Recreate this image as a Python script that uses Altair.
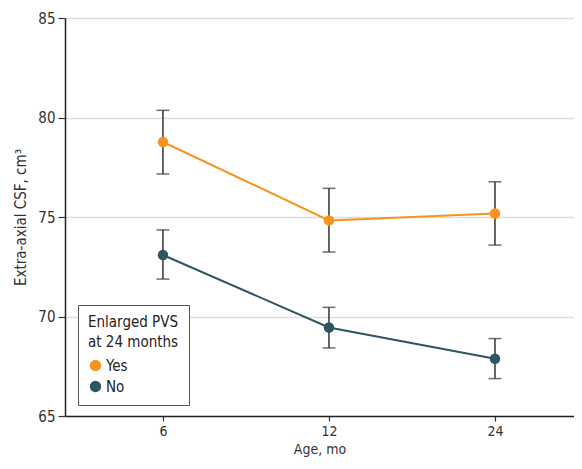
import altair as alt
import pandas as pd

ages = ["6", "12", "24"]
age_pos = [1, 2, 3]
groups = ["Yes", "No"]
yes_mean = [78.77, 74.83, 75.18]
yes_lo = [77.16, 73.24, 73.59]
yes_hi = [80.36, 76.44, 76.77]
no_mean = [73.09, 69.45, 67.88]
no_lo = [71.88, 68.42, 66.88]
no_hi = [74.35, 70.46, 68.89]

rows = []
for g, m, lo, hi in [("Yes", yes_mean, yes_lo, yes_hi), ("No", no_mean, no_lo, no_hi)]:
    for i in range(3):
        rows.append({"group": g, "age": ages[i], "pos": age_pos[i],
                     "mean": m[i], "lo": lo[i], "hi": hi[i]})
df = pd.DataFrame(rows)

FONT = "DejaVu Sans Condensed"
color = alt.Color("group:N",
                  scale=alt.Scale(domain=groups, range=["#F7941D", "#2D5562"]),
                  legend=alt.Legend(title=["Enlarged PVS", "at 24 months"],
                                    orient="none", legendX=13, legendY=287,
                                    symbolType="circle", symbolSize=130,
                                    symbolStrokeWidth=0, symbolOpacity=1,
                                    fillColor="white", strokeColor="#555",
                                    padding=10, titleFontSize=15, labelFontSize=15,
                                    titleFontWeight="normal", titleColor="#222",
                                    labelColor="#222", titleFont=FONT, labelFont=FONT,
                                    rowPadding=5, titlePadding=8, labelOffset=3,
                                    titleLineHeight=20))

xs = alt.X("pos:Q",
           scale=alt.Scale(domain=[0.41, 3.476], nice=False, zero=False),
           axis=alt.Axis(values=age_pos, labelExpr="['6','12','24'][datum.value-1]",
                         title="Age, mo", grid=False, tickSize=5, tickColor="#333",
                         domainColor="#222", labelPadding=3, titlePadding=4,
                         labelFontSize=14, titleFontSize=14))
ys = alt.Y("mean:Q",
           scale=alt.Scale(domain=[65, 85], nice=False, zero=False),
           axis=alt.Axis(values=[65, 70, 75, 80, 85], title="Extra-axial CSF, cm³",
                         grid=True, gridColor="#dddddd", gridWidth=1.5,
                         tickSize=7, tickColor="#333", domainColor="#222",
                         labelPadding=3, titlePadding=9))

base = alt.Chart(df)
rule = base.mark_rule(color="#333", strokeWidth=1.5).encode(
    x=xs, y=alt.Y("lo:Q"), y2="hi:Q")
cap_lo = base.mark_tick(orient="horizontal", size=13, thickness=1.5, color="#333").encode(
    x=xs, y=alt.Y("lo:Q"))
cap_hi = base.mark_tick(orient="horizontal", size=13, thickness=1.5, color="#333").encode(
    x=xs, y=alt.Y("hi:Q"))
line = base.mark_line(strokeWidth=2).encode(x=xs, y=ys, color=color,
                                            detail="group:N")
pts = base.mark_point(filled=True, size=110, opacity=1).encode(x=xs, y=ys, color=color)

chart = alt.layer(rule, cap_lo, cap_hi, line, pts).properties(
    width=509, height=398,
    autosize=alt.AutoSizeParams(type="none"),
    padding={"left": 57, "top": 10, "right": 0, "bottom": 43},
).configure_view(stroke=None).configure_axis(
    labelFont=FONT, titleFont=FONT, labelFontSize=15, titleFontSize=15,
    labelColor="#333", titleColor="#333", titleFontWeight="normal",
    domainWidth=1.5, tickWidth=1.2)

chart.save("out.html", embed_options={"renderer": "svg", "actions": False})
